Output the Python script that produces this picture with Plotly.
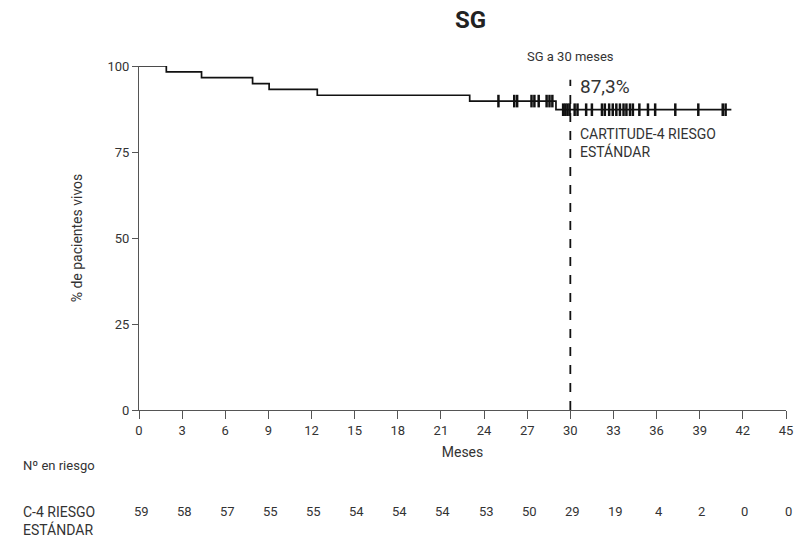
import plotly.graph_objects as go
import numpy as np

# Kaplan-Meier step data (months, % alive)
step_times = [0, 1.9, 4.35, 7.9, 9.05, 12.4, 23.0, 29.0, 41.2]
step_surv = [100, 98.3, 96.6, 94.9, 93.2, 91.5, 89.8, 87.3, 87.3]

# censor marks (months)
censor_times = [25.0, 26.1, 26.3, 27.3, 27.5, 27.8, 28.35, 28.55, 28.75,
                29.5, 29.65, 29.8, 29.95, 30.3, 30.5, 31.1, 31.5, 32.2,
                32.4, 32.7, 32.95, 33.2, 33.45, 33.7, 33.9, 34.15, 34.35,
                34.8, 35.4, 35.9, 37.3, 38.9, 40.6, 40.8]

risk_times = [0, 3, 6, 9, 12, 15, 18, 21, 24, 27, 30, 33, 36, 39, 42, 45]
risk_counts = [59, 58, 57, 55, 55, 54, 54, 54, 53, 50, 29, 19, 4, 2, 0, 0]

x_ticks = list(range(0, 46, 3))
y_ticks = [0, 25, 50, 75, 100]

FONT = "Roboto, sans-serif"
TXT = "#333333"

def surv_at(t):
    idx = np.searchsorted(step_times, t, side="right") - 1
    return step_surv[idx]

censor_y = [surv_at(t) for t in censor_times]

fig = go.Figure()
fig.add_trace(go.Scatter(x=step_times, y=step_surv, mode="lines",
                         line=dict(color="#111111", width=1.7, shape="hv"),
                         hoverinfo="skip", cliponaxis=False))
fig.add_trace(go.Scatter(x=censor_times, y=censor_y, mode="markers",
                         marker=dict(symbol="line-ns", size=9,
                                     line=dict(color="#111111", width=2.5)),
                         hoverinfo="skip", cliponaxis=False))

fig.add_shape(type="line", x0=30, x1=30, y0=0, y1=96, xref="x", yref="y",
              line=dict(color="#111111", width=1.8, dash="dash"))

fig.update_layout(
    width=808, height=537,
    margin=dict(l=138.5, r=21.5, t=66, b=127),
    plot_bgcolor="white", paper_bgcolor="white",
    showlegend=False,
    font=dict(family=FONT, color=TXT, size=13),
    xaxis=dict(range=[0, 45], tickvals=x_ticks, ticks="outside", ticklen=8,
               tickcolor="#555", showline=True, linecolor="#555", linewidth=1,
               showgrid=False, zeroline=False,
               tickfont=dict(size=13, color=TXT),
               title=dict(text="Meses", font=dict(size=14, color=TXT), standoff=10)),
    yaxis=dict(range=[0, 100], tickvals=y_ticks, ticks="outside", ticklen=6,
               tickcolor="#555", showline=True, linecolor="#555", linewidth=1,
               showgrid=False, zeroline=False,
               tickfont=dict(size=13, color=TXT),
               title=dict(text="% de pacientes vivos", font=dict(size=14, color=TXT),
                          standoff=21)),
)

ann = []
ann.append(dict(text="<b>SG</b>", xref="paper", yref="paper", x=0.512, y=1.0,
                yshift=62, showarrow=False, font=dict(size=24, color="#222")))
ann.append(dict(text="SG a 30 meses", xref="x", yref="paper", x=30, y=1.0,
                yshift=19, showarrow=False, font=dict(size=13, color=TXT)))
ann.append(dict(text="87,3%", xref="x", yref="y", x=30.5, y=94.0,
                xanchor="left", showarrow=False, font=dict(size=19, color=TXT)))
ann.append(dict(text="CARTITUDE-4 RIESGO<br>ESTÁNDAR", xref="x", yref="y",
                x=30.5, y=77.5, xanchor="left", align="left", showarrow=False,
                font=dict(size=14, color=TXT)))
ann.append(dict(text="Nº en riesgo", xref="paper", yref="paper", x=-118.5/648,
                y=0, yshift=-65, xanchor="left", showarrow=False,
                font=dict(size=13, color=TXT)))
ann.append(dict(text="C-4 RIESGO<br>ESTÁNDAR", xref="paper", yref="paper",
                x=-118.5/648, y=0, yshift=-111, xanchor="left",
                yanchor="middle", align="left", showarrow=False,
                font=dict(size=14, color=TXT)))
for t, c in zip(risk_times, risk_counts):
    ann.append(dict(text=str(c), xref="x", yref="paper", x=t, y=0,
                    yshift=-111, xshift=2, showarrow=False,
                    font=dict(size=13, color=TXT)))
fig.update_layout(annotations=ann)

fig.write_html("out.html")
